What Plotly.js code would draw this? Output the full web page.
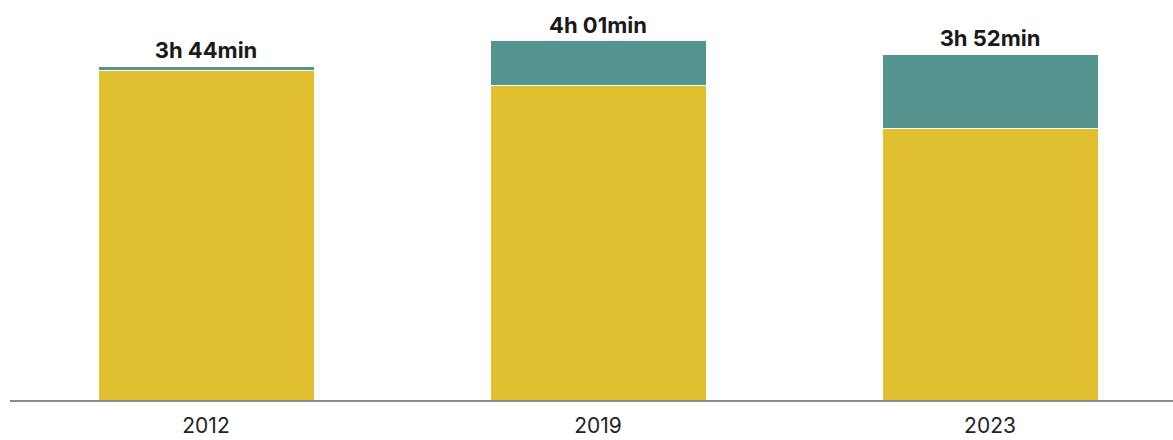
<!DOCTYPE html>
<html>
<head>
<meta charset="utf-8">
<script src="https://cdn.plot.ly/plotly-3.0.1.min.js"></script>
<style>html,body{margin:0;padding:0;background:#fff;}#chart{width:1173px;height:440px;}</style>
</head>
<body>
<div id="chart"></div>
<script>
const years = ["2012", "2019", "2023"];
const yellowMinutes = [221, 211, 182];
const tealMinutes = [3, 30, 50];
const totalLabels = ["3h 44min", "4h 01min", "3h 52min"];

const data = [
  {
    type: "bar", x: years, y: yellowMinutes,
    marker: {color: "#E0BF30", line: {color: "#ffffff", width: 1}},
    hoverinfo: "skip"
  },
  {
    type: "bar", x: years, y: tealMinutes,
    marker: {color: "#55948F", line: {color: "#ffffff", width: 1}},
    text: totalLabels.map(t => "<b>" + t + "</b>"),
    textposition: "outside",
    constraintext: "none",
    cliponaxis: false,
    textfont: {family: "Inter, 'Noto Sans', sans-serif", size: 22, color: "#1a1a1a"},
    hoverinfo: "skip"
  }
];

const layout = {
  width: 1173, height: 440,
  margin: {l: 10, r: 0, t: 0, b: 40},
  barmode: "stack",
  bargap: 0.449,
  showlegend: false,
  paper_bgcolor: "#ffffff",
  plot_bgcolor: "#ffffff",
  xaxis: {
    type: "category",
    range: [-0.5, 2.4668],
    showline: true, linecolor: "#8a8a8a", linewidth: 1.5,
    ticks: "", showgrid: false, zeroline: false,
    tickfont: {family: "Inter, 'Noto Sans', sans-serif", size: 21, color: "#222"},
    ticklabelstandoff: 6
  },
  yaxis: {
    range: [0, 268.5],
    visible: false, showgrid: false, zeroline: false
  }
};

Plotly.newPlot("chart", data, layout, {displayModeBar: false, staticPlot: true});
</script>
</body>
</html>
